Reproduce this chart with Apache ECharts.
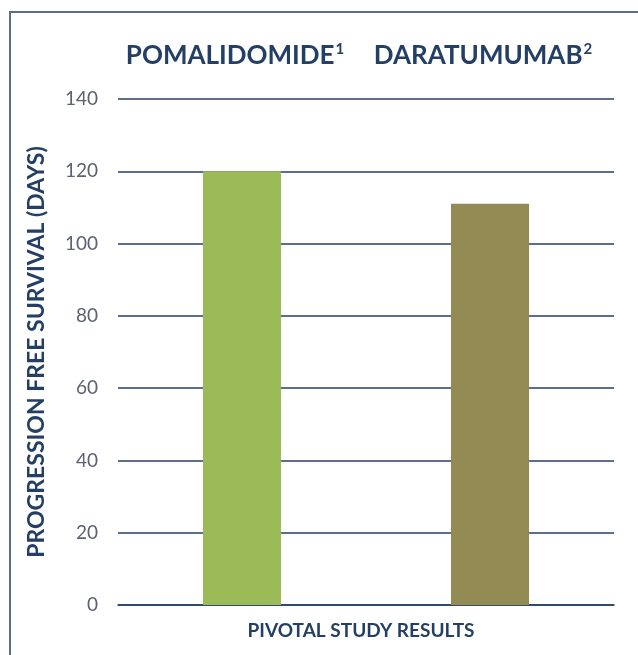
<!DOCTYPE html>
<html>
<head>
<meta charset="utf-8">
<script src="https://cdn.jsdelivr.net/npm/echarts@6/dist/echarts.min.js"></script>
<style>
  html, body { margin: 0; padding: 0; background: #fff; }
  #frame {
    position: absolute; left: 9px; top: 11px; width: 640px; height: 660px;
    border-top: 2px solid #5a6e88; border-left: 2px solid #5a6e88;
  }
  #chart { position: absolute; left: 0; top: 0; width: 638px; height: 655px; }
</style>
</head>
<body>
<div id="frame"></div>
<div id="chart"></div>
<script>
// 数据
const categories = ["POMALIDOMIDE", "DARATUMUMAB"];
const footnotes = ["1", "2"];
const pfsDays = [120, 111];
const barColors = ["#9bbb59", "#948a54"];
const yTicks = [0, 20, 40, 60, 80, 100, 120, 140];

const navy = "#243f66";
const chart = echarts.init(document.getElementById("chart"));
chart.setOption({
  animation: false,
  grid: { left: 118, right: 24, top: 99, bottom: 50 },
  xAxis: [
    {
      type: "category",
      data: categories,
      name: "PIVOTAL STUDY RESULTS",
      nameLocation: "middle",
      nameGap: 16,
      nameTextStyle: { color: navy, fontWeight: "bold", fontSize: 19, fontFamily: "Lato", padding: [0, 10, 0, 0] },
      axisLine: { lineStyle: { color: navy, width: 1.5 } },
      axisTick: { show: false },
      axisLabel: { show: false }
    },
    {
      // 顶部标签
      type: "category",
      position: "top",
      data: categories,
      axisLine: { show: false },
      axisTick: { show: false },
      axisLabel: {
        margin: 30,
        formatter: function (v, i) {
          return "{n|" + v + "}{s|" + footnotes[i] + "}";
        },
        rich: {
          n: { color: navy, fontWeight: "bold", fontSize: 26, fontFamily: "Lato" },
          s: { color: navy, fontWeight: "bold", fontSize: 15, fontFamily: "Lato", verticalAlign: "top", padding: [0, 14, 12, 1] }
        }
      }
    }
  ],
  yAxis: {
    type: "value",
    min: yTicks[0],
    max: yTicks[yTicks.length - 1],
    interval: 20,
    name: "PROGRESSION FREE SURVIVAL (DAYS)",
    nameLocation: "middle",
    nameGap: 70,
    nameTextStyle: { color: navy, fontWeight: "bold", fontSize: 23, fontFamily: "Lato" },
    axisLine: { show: false },
    axisTick: { show: false },
    axisLabel: { color: "#5c6270", fontSize: 19, fontFamily: "Lato", margin: 20 },
    splitLine: { lineStyle: { color: navy, width: 1.5 } }
  },
  series: [
    {
      type: "bar",
      barWidth: 78,
      data: pfsDays.map(function (v, i) {
        return { value: v, itemStyle: { color: barColors[i] } };
      })
    }
  ]
});
</script>
</body>
</html>
